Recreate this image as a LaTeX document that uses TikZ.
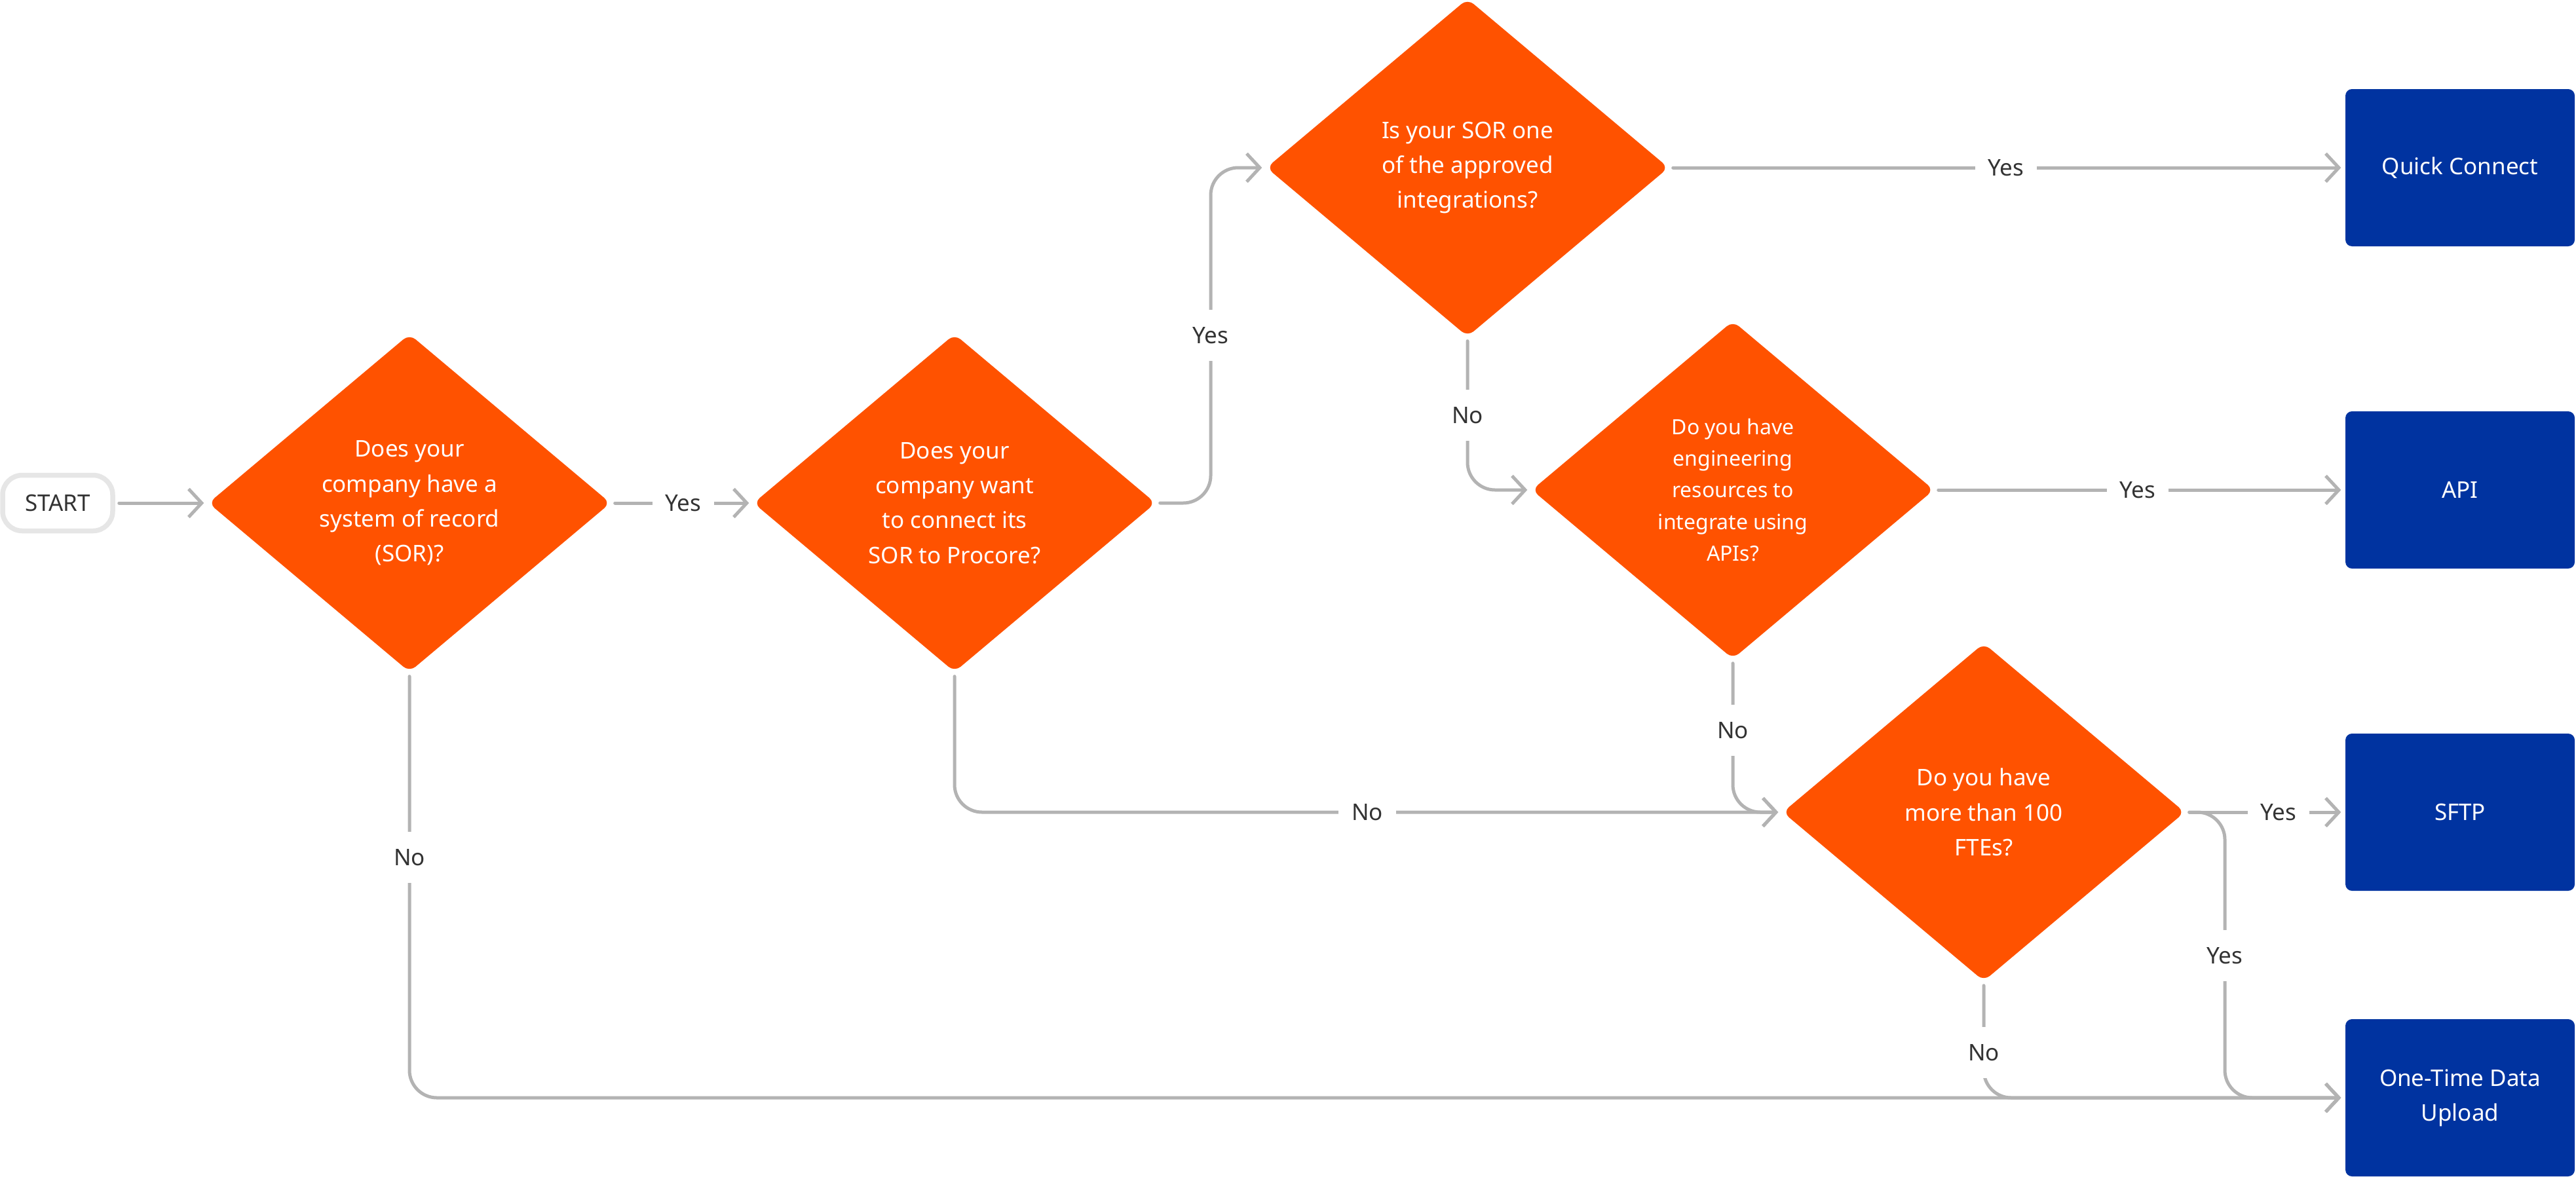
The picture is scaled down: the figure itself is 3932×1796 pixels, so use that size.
\documentclass[tikz,border=0pt]{standalone}
\usepackage{fontspec}
\setmainfont{Noto Sans}
\usetikzlibrary{shapes.geometric, arrows.meta}
\definecolor{orng}{HTML}{FF5200}
\definecolor{navy}{HTML}{0033A0}
\definecolor{lineg}{HTML}{B3B3B3}
\definecolor{txtd}{HTML}{333333}
\definecolor{startb}{HTML}{E6E6E6}
\begin{document}
\begin{tikzpicture}[x=0.1mm, y=-0.1mm,
  dec/.style={shape=diamond, fill=orng, draw=none, rounded corners=1.2mm,
    minimum width=61.4mm, minimum height=51.6mm, inner sep=0pt, text=white,
    align=center, font=\fontsize{9.96pt}{15.2pt}\selectfont},
  outbox/.style={rectangle, fill=navy, draw=none, rounded corners=1mm,
    minimum width=35mm, minimum height=24mm, inner sep=0pt, text=white,
    align=center, font=\fontsize{9.96pt}{15.2pt}\selectfont},
  startn/.style={rectangle, draw=startb, line width=0.75mm, rounded corners=3mm,
    minimum width=16.8mm, minimum height=8.5mm, inner sep=0pt, text=txtd,
    font=\fontsize{9.96pt}{12pt}\selectfont},
  conn/.style={draw=lineg, line width=0.5mm, line cap=round, line join=round,
    -{Straight Barb[length=2mm, width=4.3mm]}, shorten <=0.6mm, shorten >=0.6mm,
    rounded corners=4.2mm},
  lbl/.style={fill=white, text=txtd, inner xsep=2mm, inner ysep=2.6mm,
    font=\fontsize{9.96pt}{12pt}\selectfont}]
\useasboundingbox (0,0) rectangle (3932,1796);

% nodes
\node[startn] (start) at (88,768) {START};
\node[dec] (d1) at (625,768) {Does your\\company have a\\system of record\\(SOR)?};
\node[dec] (d2) at (1457,768) {Does your\\company want\\to connect its\\SOR to Procore?};
\node[dec] (d3) at (2240,256) {Is your SOR one\\of the approved\\integrations?};
\node[dec, font=\fontsize{9.1pt}{13.7pt}\selectfont] (d4) at (2645,748) {Do you have\\engineering\\resources to\\integrate using\\APIs?};
\node[dec] (d5) at (3028,1240) {Do you have\\more than 100\\FTEs?};
\node[outbox] (qc) at (3755,256) {Quick Connect};
\node[outbox] (api) at (3755,748) {API};
\node[outbox] (sftp) at (3755,1240) {SFTP};
\node[outbox] (otu) at (3755,1676) {One-Time Data\\Upload};

\coordinate (j23) at (1848,0);
\coordinate (j5) at (3396,0);

% connectors
\draw[conn] (start.east) -- (d1.west);
\draw[conn] (d1.east) -- (d2.west);
\draw[conn] (d2.east) -| (j23 |- d3.west) -- (d3.west);
\draw[conn] (d3.east) -- (qc.west);
\draw[conn] (d3.south) |- (d4.west);
\draw[conn] (d4.east) -- (api.west);
\draw[conn] (d4.south) |- (d5.west);
\draw[conn] (d2.south) |- (d5.west);
\draw[conn] (d5.east) -- (sftp.west);
\draw[conn] (d5.east) -| (j5 |- otu.west) -- (otu.west);
\draw[conn] (d5.south) |- (otu.west);
\draw[conn] (d1.south) |- (otu.west);

% labels
\node[lbl] (l1) at (1043,768) {Yes};
\node[lbl] (l2) at (1848,512) {Yes};
\node[lbl] (l3) at (3062,256) {Yes};
\node[lbl] (l4) at (2240,634) {No};
\node[lbl] (l5) at (3263,748) {Yes};
\node[lbl] (l6) at (2645,1115) {No};
\node[lbl] (l7) at (2087,1240) {No};
\node[lbl] (l8) at (3478,1240) {Yes};
\node[lbl] (l9) at (3396,1459) {Yes};
\node[lbl] (l10) at (3028,1607) {No};
\node[lbl] (l11) at (625,1309) {No};
\end{tikzpicture}
\end{document}
